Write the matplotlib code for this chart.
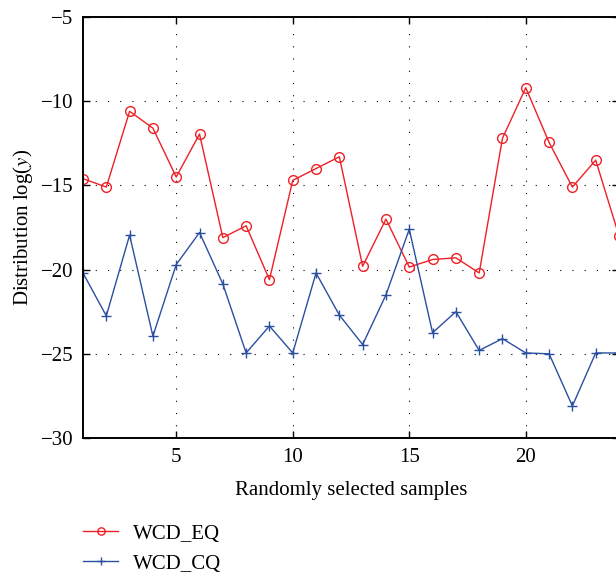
import numpy as np
import matplotlib
matplotlib.use("Agg")
import matplotlib.pyplot as plt

# sample index and the two log-distribution series
samples = np.arange(1, 25)
wcd_eq = [-14.6, -15.1, -10.6, -11.6, -14.5, -11.95, -18.1, -17.4, -20.6, -14.7,
          -14.0, -13.3, -19.8, -17.0, -19.85, -19.4, -19.3, -20.2, -12.2, -9.2,
          -12.45, -15.1, -13.5, -18.0]
wcd_cq = [-20.2, -22.75, -17.95, -23.95, -19.7, -17.8, -20.85, -24.95, -23.35, -24.95,
          -20.2, -22.7, -24.45, -21.5, -17.6, -23.75, -22.5, -24.8, -24.1, -24.95,
          -25.0, -28.1, -24.95, -24.95]

xticks = [5, 10, 15, 20]
yticks = [-30, -25, -20, -15, -10, -5]

plt.rcParams['font.family'] = ['Liberation Serif', 'DejaVu Serif']
plt.rcParams['mathtext.fontset'] = 'stix'

fig = plt.figure(figsize=(6.16, 5.76), dpi=100)
ax = fig.add_axes([83 / 616, 138 / 576, 536 / 616, 421 / 576])

ax.plot(samples, wcd_eq, color='#ee2026', lw=1.0, marker='o', ms=7,
        mfc='none', mew=1.0, label='WCD_EQ')
ax.plot(samples, wcd_cq, color='#2b4fa0', lw=1.0, marker='+', ms=7,
        mew=1.0, label='WCD_CQ')

ax.set_xlim(1, 24)
ax.set_ylim(-30, -5)
ax.set_xticks(xticks)
ax.set_yticks(yticks)
ax.set_yticklabels(['\u2212%d' % -v for v in yticks])
ax.tick_params(direction='in', top=True, right=True, length=5, width=1.0,
               labelsize=15, pad=7)
ax.grid(True, color='black', linestyle=(0, (1, 10)), lw=0.8)
for sp in ax.spines.values():
    sp.set_linewidth(1.4)

ax.set_xlabel('Randomly selected samples', fontsize=15, labelpad=10)
ax.set_ylabel('Distribution log($y$)', fontsize=15, labelpad=4)

fig.legend(loc='upper left', bbox_to_anchor=(83 / 616, 1 - 524 / 576),
           frameon=False, fontsize=15, markerscale=0.75, handlelength=1.7,
           handletextpad=0.72, labelspacing=0.5, borderpad=0, borderaxespad=0)

fig.savefig('out.png', dpi=100)
